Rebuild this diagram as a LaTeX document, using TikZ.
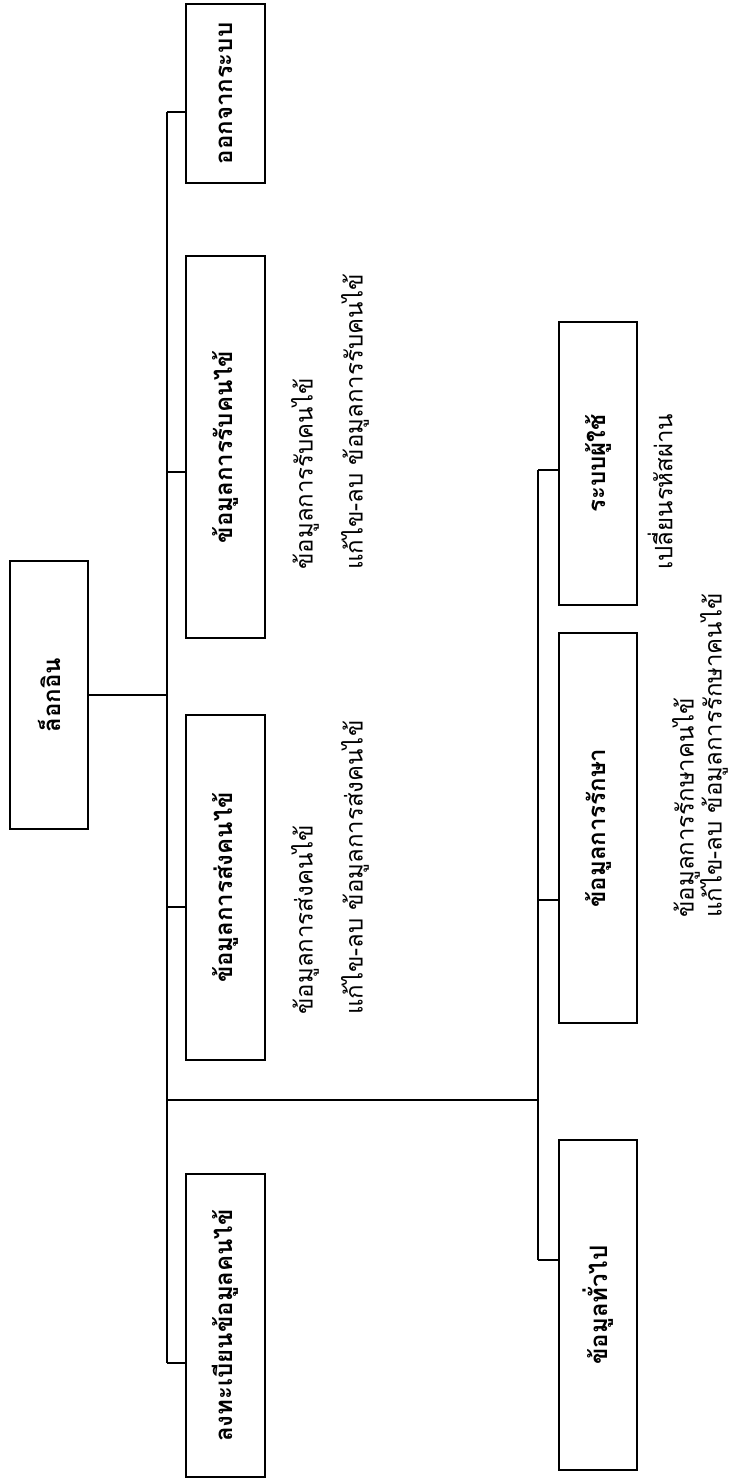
\documentclass[tikz,border=0pt]{standalone}
\usepackage{fontspec}
\newfontfamily\thai[Script=Thai]{Loma}
\begin{document}
\begin{tikzpicture}[x=0.5pt,y=-0.5pt,
  box/.style={draw, line width=1pt, rectangle, inner sep=0pt, rotate=90,
    font=\thai\bfseries\fontsize{12}{14}\selectfont},
  lbl/.style={rotate=90, anchor=west, inner sep=0pt,
    font=\thai\fontsize{12}{14}\selectfont},
  wire/.style={line width=1pt}]
\useasboundingbox (0,0) rectangle (732,1481);
% level 0
\node[box, minimum width=134pt, minimum height=39pt] (root) at (49,695) {ล็อกอิน};
% level 1 boxes
\node[box, minimum width=89.5pt, minimum height=39.5pt] (exit) at (225.5,93.5) {ออกจากระบบ};
\node[box, minimum width=191pt, minimum height=39.5pt] (recv) at (225.5,447) {ข้อมูลการรับคนไข้};
\node[box, minimum width=172.5pt, minimum height=39.5pt] (send) at (225.5,887.5) {ข้อมูลการส่งคนไข้};
\node[box, minimum width=151.5pt, minimum height=39.5pt] (reg) at (225.5,1325.5) {ลงทะเบียนข้อมูลคนไข้};
% level 2 boxes
\node[box, minimum width=141.5pt, minimum height=39pt] (user) at (598,463.5) {ระบบผู้ใช้};
\node[box, minimum width=195pt, minimum height=39pt] (treat) at (598,828) {ข้อมูลการรักษา};
\node[box, minimum width=165pt, minimum height=39pt] (gen) at (598,1305) {ข้อมูลทั่วไป};
% free texts
\node[lbl] (r1) at (305,570) {ข้อมูลการรับคนไข้};
\node[lbl] (r2) at (355,570) {แก้ไข-ลบ ข้อมูลการรับคนไข้};
\node[lbl] (s1) at (305,1015) {ข้อมูลการส่งคนไข้};
\node[lbl] (s2) at (355,1015) {แก้ไข-ลบ ข้อมูลการส่งคนไข้};
\node[lbl] (u1) at (660,570) {เปลี่ยนรหัสผ่าน};
\node[lbl] (t1) at (686,918) {ข้อมูลการรักษาคนไข้};
\node[lbl] (t2) at (714,918) {แก้ไข-ลบ ข้อมูลการรักษาคนไข้};
% main trunk
\coordinate (m0) at (167,112);
\coordinate (m1) at (167,1363);
\coordinate (mr) at (167,472);
\coordinate (ms) at (167,907);
\coordinate (mh) at (167,1100);
\coordinate (n0) at (538,470);
\coordinate (n1) at (538,1260);
\coordinate (nt) at (538,900);
\draw[wire] (m0) -- (m1);
\draw[wire] (root.south) -- (root.south -| m0);
\draw[wire] (m0) -- (m0 -| exit.north);
\draw[wire] (mr) -- (mr -| recv.north);
\draw[wire] (ms) -- (ms -| send.north);
\draw[wire] (m1) -- (m1 -| reg.north);
\draw[wire] (mh) -- (mh -| n0);
\draw[wire] (n0) -- (n1);
\draw[wire] (n0) -- (n0 -| user.north);
\draw[wire] (nt) -- (nt -| treat.north);
\draw[wire] (n1) -- (n1 -| gen.north);
\end{tikzpicture}
\end{document}
